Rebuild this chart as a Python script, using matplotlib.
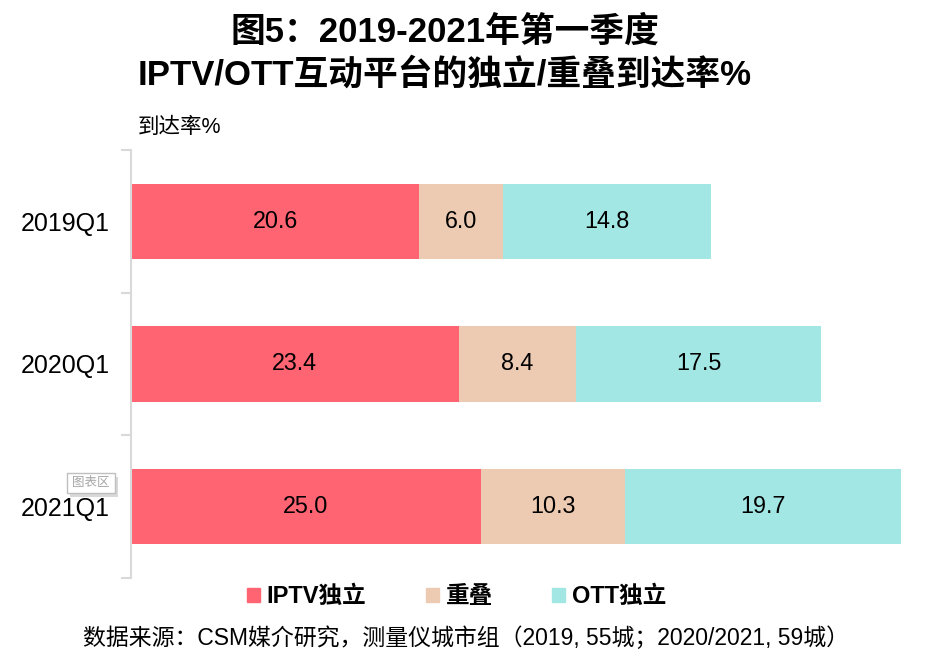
import numpy as np
import matplotlib.pyplot as plt
from matplotlib.patches import Patch, Rectangle

plt.rcParams['font.family'] = ['Liberation Sans', 'Noto Sans CJK SC', 'DejaVu Sans']

# data
quarters = ['2019Q1', '2020Q1', '2021Q1']
series_names = ['IPTV独立', '重叠', 'OTT独立']
iptv_only = [20.6, 23.4, 25.0]
overlap = [6.0, 8.4, 10.3]
ott_only = [14.8, 17.5, 19.7]
colors = ['#FF6472', '#EDCBB3', '#A3E7E4']

fig = plt.figure(figsize=(9.28, 6.72), dpi=100)
ax = fig.add_axes([0.1412, 0.1399, 0.8297, 0.6369])

y = np.arange(len(quarters))
left = np.zeros(len(quarters))
for vals, name, c in zip([iptv_only, overlap, ott_only], series_names, colors):
    bars = ax.barh(y, vals, left=left, height=0.53, color=c, label=name)
    for b, v in zip(bars, vals):
        ax.text(b.get_x() + b.get_width() / 2, b.get_y() + b.get_height() / 2,
                f'{v:.1f}', ha='center', va='center', fontsize=16.8, color='black')
    left += np.array(vals)

ax.set_xlim(0, 55)
ax.set_ylim(len(quarters) - 0.5, -0.5)
ax.set_yticks(y)
ax.set_yticklabels(quarters, fontsize=18)
ax.set_yticks(np.arange(-0.5, len(quarters)), minor=True)
ax.tick_params(axis='y', which='major', length=0, pad=15)
ax.tick_params(axis='y', which='minor', length=7, width=1.5, color='#D9D9D9')
ax.set_xticks([])
for s in ['top', 'right', 'bottom']:
    ax.spines[s].set_visible(False)
ax.spines['left'].set_color('#D9D9D9')
ax.spines['left'].set_linewidth(1.5)

fig.text(0.479, 0.953, '图5：2019-2021年第一季度', ha='center', va='center',
         fontsize=25, fontweight='bold')
fig.text(0.479, 0.889, 'IPTV/OTT互动平台的独立/重叠到达率%', ha='center', va='center',
         fontsize=25, fontweight='bold')
fig.text(0.1487, 0.81, '到达率%', ha='left', va='center', fontsize=15.5)

handles = [Patch(color=c) for c in colors]
fig.legend(handles, series_names, loc='center', bbox_to_anchor=(0.492, 0.112), ncol=3,
           frameon=False, handlelength=0.55, handleheight=0.55,
           handletextpad=0.3, columnspacing=2.5, prop={'weight': 'bold', 'size': 17})

fig.text(0.502, 0.051, '数据来源：CSM媒介研究，测量仪城市组（2019, 55城；2020/2021, 59城）',
         ha='center', va='center', fontsize=16.5)

# Excel hover tooltip left in the screenshot (shadow + box)
fig.patches.append(Rectangle((70 / 928, 1 - 497 / 672), 48 / 928, 20 / 672,
                             transform=fig.transFigure, fc='#D9D9D9', ec='none', zorder=3))
fig.patches.append(Rectangle((67 / 928, 1 - 493 / 672), 48 / 928, 20 / 672,
                             transform=fig.transFigure, fc='white', ec='#BFBFBF', lw=1, zorder=4))
fig.text(91 / 928, 1 - 483 / 672, '图表区', ha='center', va='center', fontsize=9,
         color='#A6A6A6', zorder=5)

fig.savefig('out.png', dpi=100)
